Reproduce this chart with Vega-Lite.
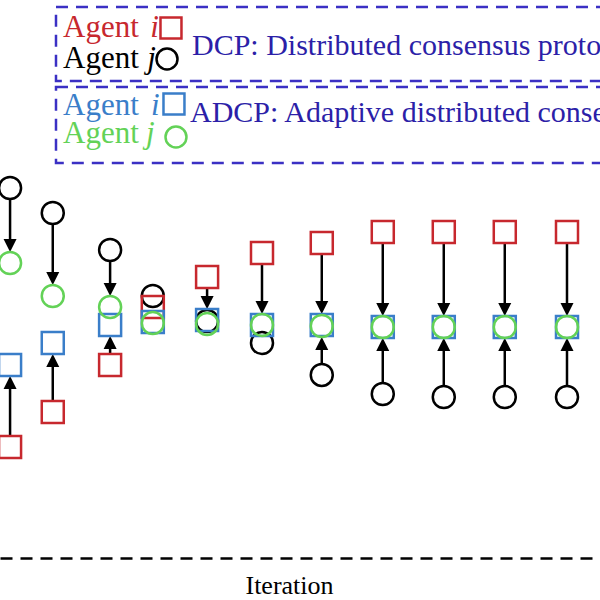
{
  "$schema": "https://vega.github.io/schema/vega-lite/v6.json",
  "width": 600,
  "height": 558,
  "autosize": {"type": "none"},
  "padding": {"top": 0, "left": 0, "right": 0, "bottom": 42},
  "background": "white",
  "config": {"view": {"stroke": null}},
  "datasets": {
    "points": [
      {"iter": 1.87, "protocol": "DCP", "agent": "j", "series": "DCP j", "value": 6.631},
      {"iter": 1.87, "protocol": "DCP", "agent": "i", "series": "DCP i", "value": 1.989},
      {"iter": 1.87, "protocol": "ADCP", "agent": "i", "series": "ADCP i", "value": 3.459},
      {"iter": 1.87, "protocol": "ADCP", "agent": "j", "series": "ADCP j", "value": 5.287},
      {"iter": 2.57, "protocol": "DCP", "agent": "j", "series": "DCP j", "value": 6.183},
      {"iter": 2.57, "protocol": "DCP", "agent": "i", "series": "DCP i", "value": 2.616},
      {"iter": 2.57, "protocol": "ADCP", "agent": "i", "series": "ADCP i", "value": 3.853},
      {"iter": 2.57, "protocol": "ADCP", "agent": "j", "series": "ADCP j", "value": 4.695},
      {"iter": 3.51, "protocol": "DCP", "agent": "j", "series": "DCP j", "value": 5.52},
      {"iter": 3.51, "protocol": "DCP", "agent": "i", "series": "DCP i", "value": 3.459},
      {"iter": 3.51, "protocol": "ADCP", "agent": "i", "series": "ADCP i", "value": 4.176},
      {"iter": 3.51, "protocol": "ADCP", "agent": "j", "series": "ADCP j", "value": 4.498},
      {"iter": 4.21, "protocol": "DCP", "agent": "j", "series": "DCP j", "value": 4.695},
      {"iter": 4.21, "protocol": "DCP", "agent": "i", "series": "DCP i", "value": 4.498},
      {"iter": 4.21, "protocol": "ADCP", "agent": "i", "series": "ADCP i", "value": 4.229},
      {"iter": 4.21, "protocol": "ADCP", "agent": "j", "series": "ADCP j", "value": 4.211},
      {"iter": 5.1, "protocol": "DCP", "agent": "j", "series": "DCP j", "value": 4.247},
      {"iter": 5.1, "protocol": "DCP", "agent": "i", "series": "DCP i", "value": 5.036},
      {"iter": 5.1, "protocol": "ADCP", "agent": "i", "series": "ADCP i", "value": 4.265},
      {"iter": 5.1, "protocol": "ADCP", "agent": "j", "series": "ADCP j", "value": 4.194},
      {"iter": 6.0, "protocol": "DCP", "agent": "j", "series": "DCP j", "value": 3.853},
      {"iter": 6.0, "protocol": "DCP", "agent": "i", "series": "DCP i", "value": 5.466},
      {"iter": 6.0, "protocol": "ADCP", "agent": "i", "series": "ADCP i", "value": 4.176},
      {"iter": 6.0, "protocol": "ADCP", "agent": "j", "series": "ADCP j", "value": 4.176},
      {"iter": 6.98, "protocol": "DCP", "agent": "j", "series": "DCP j", "value": 3.28},
      {"iter": 6.98, "protocol": "DCP", "agent": "i", "series": "DCP i", "value": 5.645},
      {"iter": 6.98, "protocol": "ADCP", "agent": "i", "series": "ADCP i", "value": 4.176},
      {"iter": 6.98, "protocol": "ADCP", "agent": "j", "series": "ADCP j", "value": 4.158},
      {"iter": 7.98, "protocol": "DCP", "agent": "j", "series": "DCP j", "value": 2.939},
      {"iter": 7.98, "protocol": "DCP", "agent": "i", "series": "DCP i", "value": 5.842},
      {"iter": 7.98, "protocol": "ADCP", "agent": "i", "series": "ADCP i", "value": 4.14},
      {"iter": 7.98, "protocol": "ADCP", "agent": "j", "series": "ADCP j", "value": 4.14},
      {"iter": 8.98, "protocol": "DCP", "agent": "j", "series": "DCP j", "value": 2.885},
      {"iter": 8.98, "protocol": "DCP", "agent": "i", "series": "DCP i", "value": 5.842},
      {"iter": 8.98, "protocol": "ADCP", "agent": "i", "series": "ADCP i", "value": 4.14},
      {"iter": 8.98, "protocol": "ADCP", "agent": "j", "series": "ADCP j", "value": 4.14},
      {"iter": 9.98, "protocol": "DCP", "agent": "j", "series": "DCP j", "value": 2.885},
      {"iter": 9.98, "protocol": "DCP", "agent": "i", "series": "DCP i", "value": 5.842},
      {"iter": 9.98, "protocol": "ADCP", "agent": "i", "series": "ADCP i", "value": 4.14},
      {"iter": 9.98, "protocol": "ADCP", "agent": "j", "series": "ADCP j", "value": 4.14},
      {"iter": 11.0, "protocol": "DCP", "agent": "j", "series": "DCP j", "value": 2.885},
      {"iter": 11.0, "protocol": "DCP", "agent": "i", "series": "DCP i", "value": 5.842},
      {"iter": 11.0, "protocol": "ADCP", "agent": "i", "series": "ADCP i", "value": 4.14},
      {"iter": 11.0, "protocol": "ADCP", "agent": "j", "series": "ADCP j", "value": 4.14}
    ],
    "boxes": [
      {"bx1": 2.623, "bx2": 11.9, "by1": 9.875, "by2": 8.548},
      {"bx1": 2.623, "bx2": 11.9, "by1": 8.441, "by2": 7.079}
    ],
    "legendSymbols": [
      {"series": "DCP i", "agent": "i", "lx": 4.508, "ly": 9.498},
      {"series": "DCP j", "agent": "j", "lx": 4.443, "ly": 8.943},
      {"series": "ADCP i", "agent": "i", "lx": 4.557, "ly": 8.136},
      {"series": "ADCP j", "agent": "j", "lx": 4.59, "ly": 7.545}
    ],
    "legendAgent": [
      {"series": "DCP i", "label": "Agent", "lx": 2.738, "ly": 9.337},
      {"series": "DCP j", "label": "Agent", "lx": 2.738, "ly": 8.781},
      {"series": "ADCP i", "label": "Agent", "lx": 2.738, "ly": 7.939},
      {"series": "ADCP j", "label": "Agent", "lx": 2.738, "ly": 7.437}
    ],
    "legendIndex": [
      {"series": "DCP i", "label": "i", "lx": 4.17, "ly": 9.337},
      {"series": "DCP j", "label": "j", "lx": 4.12, "ly": 8.781},
      {"series": "ADCP i", "label": "i", "lx": 4.18, "ly": 7.939},
      {"series": "ADCP j", "label": "j", "lx": 4.1, "ly": 7.437}
    ],
    "legendDesc": [
      {"label": "DCP: Distributed consensus protocol", "lx": 4.852, "ly": 9.014},
      {"label": "ADCP: Adaptive distributed consensus protocol", "lx": 4.82, "ly": 7.814}
    ]
  },
  "encoding": {
    "x": {
      "type": "quantitative",
      "scale": {"domain": [1.705, 11.541], "nice": false, "zero": false},
      "axis": {
        "title": "Iteration",
        "labels": false,
        "ticks": false,
        "grid": false,
        "domainDash": [12, 8],
        "domainColor": "black",
        "domainWidth": 2.5,
        "titleFont": "Liberation Serif",
        "titleFontSize": 26,
        "titleFontWeight": "normal",
        "titleColor": "black",
        "titlePadding": 14,
        "titleX": 289
      }
    },
    "y": {
      "type": "quantitative",
      "scale": {"domain": [0, 10], "nice": false, "zero": false},
      "axis": null
    }
  },
  "layer": [
    {
      "data": {"name": "boxes"},
      "mark": {"type": "rect", "fill": null, "fillOpacity": 0, "stroke": "#3b30c4", "strokeWidth": 2.5, "strokeDash": [12, 8]},
      "encoding": {
        "x": {"field": "bx1", "type": "quantitative"},
        "x2": {"field": "bx2"},
        "y": {"field": "by1", "type": "quantitative"},
        "y2": {"field": "by2"}
      }
    },
    {
      "data": {"name": "points"},
      "transform": [
        {"pivot": "protocol", "value": "value", "groupby": ["iter", "agent"]},
        {"filter": "datum.DCP - datum.ADCP > 0.6"}
      ],
      "mark": {"type": "rule", "color": "black", "strokeWidth": 2.5, "yOffset": 11, "y2Offset": -17},
      "encoding": {
        "x": {"field": "iter", "type": "quantitative"},
        "y": {"field": "DCP", "type": "quantitative"},
        "y2": {"field": "ADCP"}
      }
    },
    {
      "data": {"name": "points"},
      "transform": [
        {"pivot": "protocol", "value": "value", "groupby": ["iter", "agent"]},
        {"filter": "datum.ADCP - datum.DCP > 0.6"}
      ],
      "mark": {"type": "rule", "color": "black", "strokeWidth": 2.5, "yOffset": -11, "y2Offset": 17},
      "encoding": {
        "x": {"field": "iter", "type": "quantitative"},
        "y": {"field": "DCP", "type": "quantitative"},
        "y2": {"field": "ADCP"}
      }
    },
    {
      "data": {"name": "points"},
      "transform": [
        {"pivot": "protocol", "value": "value", "groupby": ["iter", "agent"]},
        {"filter": "datum.DCP - datum.ADCP > 0.6"}
      ],
      "mark": {"type": "point", "shape": "M-1,-1L1,-1L0,1Z", "filled": true, "color": "black", "size": 169, "opacity": 1, "strokeWidth": 0, "yOffset": -17.5},
      "encoding": {
        "x": {"field": "iter", "type": "quantitative"},
        "y": {"field": "ADCP", "type": "quantitative"}
      }
    },
    {
      "data": {"name": "points"},
      "transform": [
        {"pivot": "protocol", "value": "value", "groupby": ["iter", "agent"]},
        {"filter": "datum.ADCP - datum.DCP > 0.6"}
      ],
      "mark": {"type": "point", "shape": "M-1,1L1,1L0,-1Z", "filled": true, "color": "black", "size": 169, "opacity": 1, "strokeWidth": 0, "yOffset": 17.5},
      "encoding": {
        "x": {"field": "iter", "type": "quantitative"},
        "y": {"field": "ADCP", "type": "quantitative"}
      }
    },
    {
      "data": {"name": "points"},
      "mark": {"type": "point", "filled": false, "size": 484, "strokeWidth": 2.5, "opacity": 1},
      "encoding": {
        "x": {"field": "iter", "type": "quantitative"},
        "y": {"field": "value", "type": "quantitative"},
        "color": {
          "field": "series",
          "type": "nominal",
          "scale": {"domain": ["DCP i", "DCP j", "ADCP i", "ADCP j"], "range": ["#c7282e", "#000000", "#3a7ec9", "#63d257"]},
          "legend": null
        },
        "shape": {
          "field": "agent",
          "type": "nominal",
          "scale": {"domain": ["i", "j"], "range": ["square", "circle"]},
          "legend": null
        }
      }
    },
    {
      "data": {"name": "legendSymbols"},
      "mark": {"type": "point", "filled": false, "size": 440, "strokeWidth": 2.5, "opacity": 1},
      "encoding": {
        "x": {"field": "lx", "type": "quantitative"},
        "y": {"field": "ly", "type": "quantitative"},
        "color": {"field": "series", "type": "nominal", "legend": null},
        "shape": {"field": "agent", "type": "nominal", "legend": null}
      }
    },
    {
      "data": {"name": "legendAgent"},
      "mark": {"type": "text", "font": "Liberation Serif", "fontSize": 31, "align": "left", "baseline": "alphabetic"},
      "encoding": {
        "x": {"field": "lx", "type": "quantitative"},
        "y": {"field": "ly", "type": "quantitative"},
        "text": {"field": "label"},
        "color": {"field": "series", "type": "nominal", "legend": null}
      }
    },
    {
      "data": {"name": "legendIndex"},
      "mark": {"type": "text", "font": "Liberation Serif", "fontSize": 31, "fontStyle": "italic", "align": "left", "baseline": "alphabetic"},
      "encoding": {
        "x": {"field": "lx", "type": "quantitative"},
        "y": {"field": "ly", "type": "quantitative"},
        "text": {"field": "label"},
        "color": {"field": "series", "type": "nominal", "legend": null}
      }
    },
    {
      "data": {"name": "legendDesc"},
      "mark": {"type": "text", "font": "Liberation Serif", "fontSize": 30, "align": "left", "baseline": "alphabetic", "color": "#2c1fa8"},
      "encoding": {
        "x": {"field": "lx", "type": "quantitative"},
        "y": {"field": "ly", "type": "quantitative"},
        "text": {"field": "label"}
      }
    }
  ]
}
